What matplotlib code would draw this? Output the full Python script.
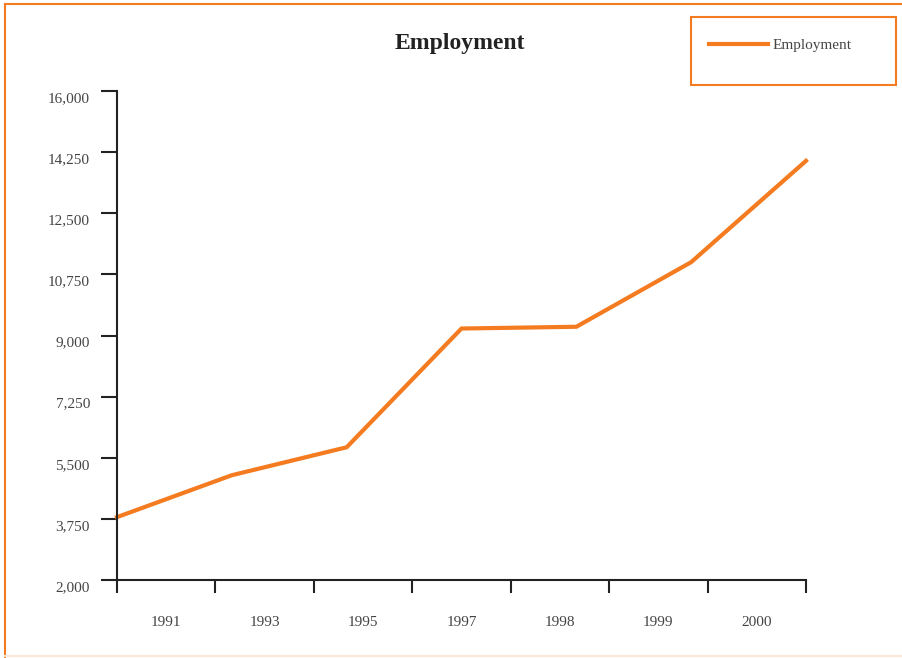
import numpy as np
import matplotlib
matplotlib.use("Agg")
import matplotlib.pyplot as plt
import matplotlib.transforms as mtransforms
from matplotlib.patches import Rectangle
from matplotlib.lines import Line2D
from matplotlib.ticker import FuncFormatter

# Employment by year
years = ["1991", "1993", "1995", "1997", "1998", "1999", "2000"]
employment = [3800, 5000, 5800, 9200, 9250, 11100, 14000]
y_ticks = [2000, 3750, 5500, 7250, 9000, 10750, 12500, 14250, 16000]

orange = "#F47B20"
axis_col = "#222222"
text_col = "#444444"

plt.rcParams["font.family"] = ["Liberation Serif", "DejaVu Serif"]

fig = plt.figure(figsize=(9.02, 6.58), dpi=100)
ax = fig.add_axes([117 / 902, 78 / 658, 689 / 902, 489 / 658])

# points span the full axis while labels sit in the middle of each band
n = len(years)
x_pts = np.linspace(0, n, n)
line, = ax.plot(x_pts, employment, color=orange, lw=3, solid_joinstyle="miter",
                label="Employment", clip_on=False)

ax.set_xlim(0, n)
ax.set_ylim(y_ticks[0], y_ticks[-1])
ax.set_xticks(np.arange(n + 1))
ax.set_xticklabels([])
ax.set_xticks(np.arange(n) + 0.5, minor=True)
ax.set_xticklabels(years, minor=True)
ax.tick_params(axis="x", which="major", length=9.5, width=1.5, color=axis_col)
ax.tick_params(axis="x", which="minor", length=0, pad=26, labelsize=11, labelcolor=text_col)

ax.set_yticks(y_ticks)
ax.yaxis.set_major_formatter(FuncFormatter(lambda v, p: f"{int(v):,}"))
ax.tick_params(axis="y", length=11.5, width=1.5, color=axis_col, pad=8,
               labelsize=11, labelcolor=text_col)

# y labels sit a little below their ticks
shift = mtransforms.ScaledTranslation(0, -6 / 100, fig.dpi_scale_trans)
for lbl in ax.get_yticklabels():
    lbl.set_transform(lbl.get_transform() + shift)

for side in ["top", "right"]:
    ax.spines[side].set_visible(False)
for side in ["left", "bottom"]:
    ax.spines[side].set_color(axis_col)
    ax.spines[side].set_linewidth(1.5)

fig.text(460 / 902, 1 - 43 / 658, "Employment", ha="center", va="center",
         fontsize=17, fontweight="bold", color="#222222")

# legend box
fig.patches.append(Rectangle((691 / 902, 1 - 85 / 658), 205 / 902, 68 / 658,
                             transform=fig.transFigure, fill=False,
                             edgecolor=orange, lw=1.5))
fig.legend(handles=[line], loc="upper left", bbox_to_anchor=(701 / 902, 1 - 31 / 658),
           frameon=False, fontsize=11, handlelength=3.9, handletextpad=0.3,
           labelcolor=text_col, borderpad=0)

# outer frame
fig.lines.append(Line2D([5 / 902, 5 / 902], [0, 1 - 4 / 658], transform=fig.transFigure,
                        color=orange, lw=1.5))
fig.lines.append(Line2D([5 / 902, 1], [1 - 4 / 658, 1 - 4 / 658], transform=fig.transFigure,
                        color=orange, lw=1.5))
fig.lines.append(Line2D([5 / 902, 1], [2 / 658, 2 / 658], transform=fig.transFigure,
                        color="#FBE6D8", lw=1.5))

fig.savefig("out.png", dpi=100)
